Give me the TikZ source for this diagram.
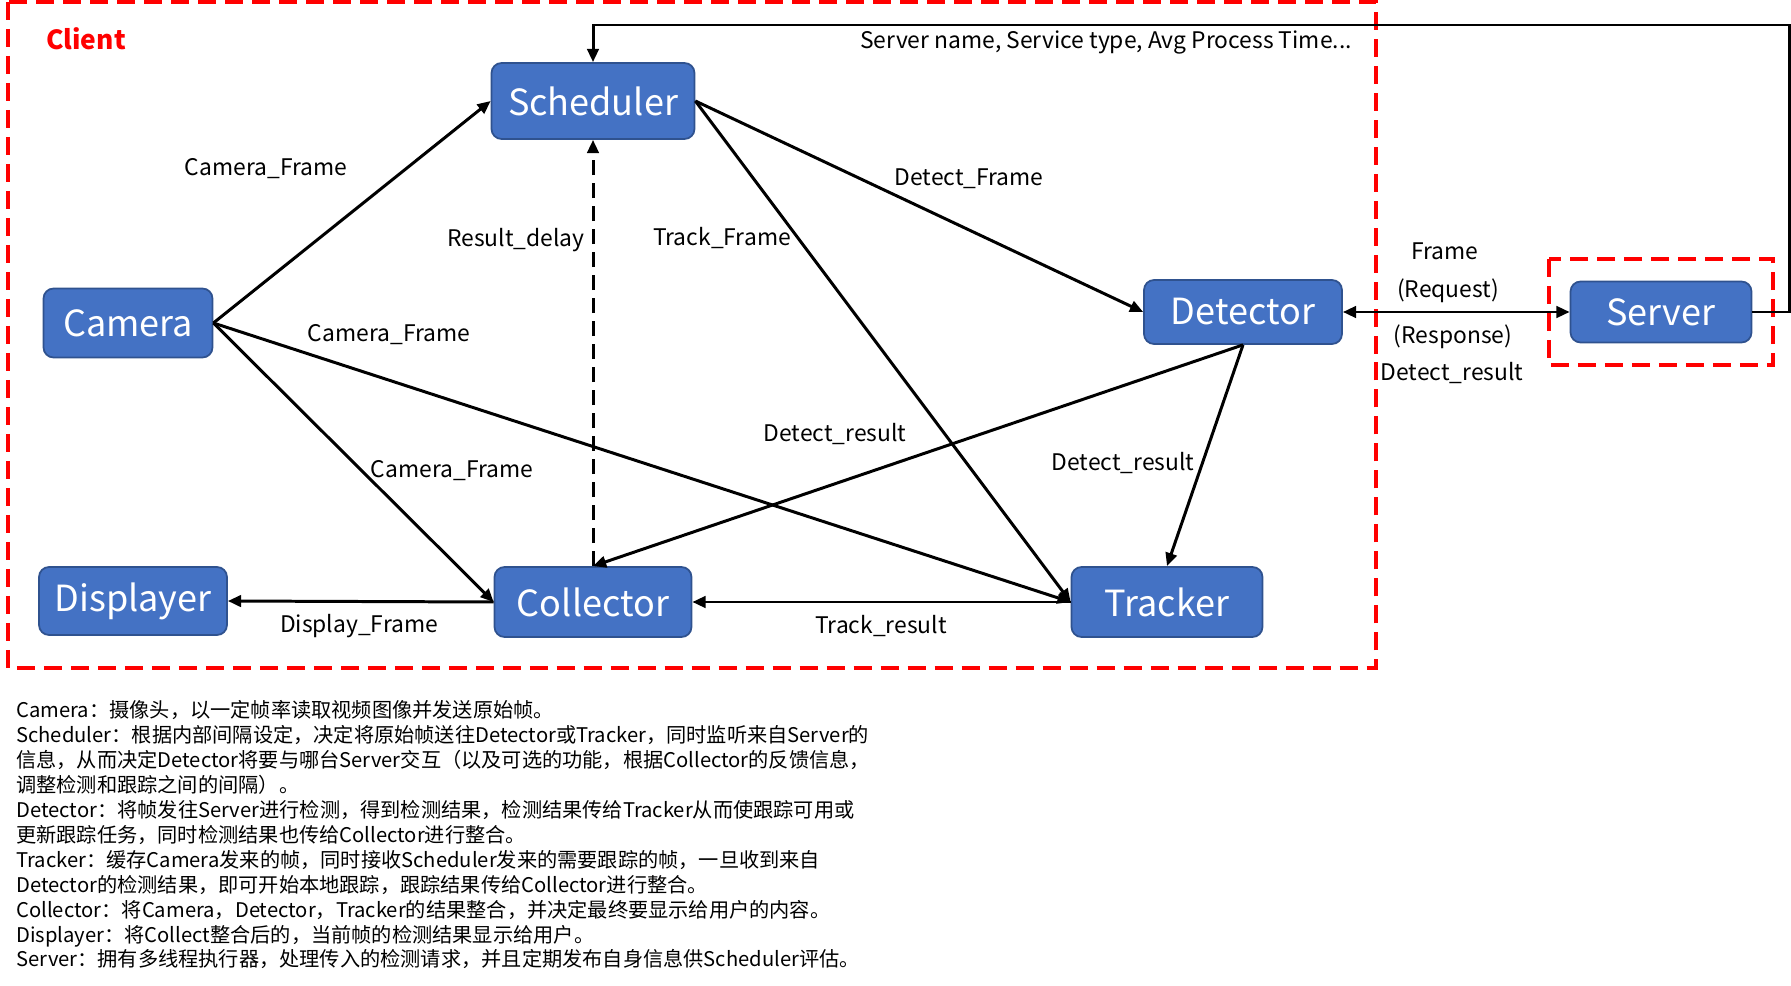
\documentclass[tikz,border=0pt]{standalone}
\usepackage{fontspec}
\setmainfont{Noto Sans CJK SC}
\usetikzlibrary{arrows.meta}
\definecolor{nodeblue}{RGB}{68,114,196}
\definecolor{nodeedge}{RGB}{47,82,143}

\begin{document}
\begin{tikzpicture}[x=0.02cm, y=-0.02cm,
    module/.style={draw=nodeedge, line width=1pt, fill=nodeblue, rounded corners=0.2cm, text=white, inner sep=0pt, font=\fontsize{20.5}{25}\selectfont},
    flow/.style={-{Triangle[length=7.5pt,width=6.5pt]}, line width=1.7pt},
    lbl/.style={font=\fontsize{13}{15}\selectfont},
    zone/.style={draw=red, dash pattern=on 0.36cm off 0.18cm, line width=1.8pt}
  ]
  \useasboundingbox (0,0) rectangle (1791,986);

  % Zones
  \draw[zone] (8,2) rectangle (1376,668);
  \draw[zone] (1549,259) rectangle (1773,365);
  \node[text=red, font=\fontsize{15}{18}\selectfont\bfseries, anchor=west] (client) at (40,39) {Client};

  % Modules
  \node[module, minimum width=4.06cm, minimum height=1.52cm] (scheduler) at (593,101) {Scheduler};
  \node[module, minimum width=3.38cm, minimum height=1.38cm] (camera) at (128,323) {Camera};
  \node[module, minimum width=3.96cm, minimum height=1.28cm] (detector) at (1243,312) {Detector};
  \node[module, minimum width=3.62cm, minimum height=1.22cm] (server) at (1661,312) {Server};
  \node[module, minimum width=3.76cm, minimum height=1.36cm] (displayer) at (133,601) {Displayer};
  \node[module, minimum width=3.94cm, minimum height=1.40cm] (collector) at (593,602) {Collector};
  \node[module, minimum width=3.82cm, minimum height=1.40cm] (tracker) at (1167,602) {Tracker};

  % Connectors
  \draw[flow] (camera.east) -- (scheduler.west);
  \draw[flow] (scheduler.east) -- (detector.west);
  \draw[flow] (scheduler.east) -- (tracker.west);
  \draw[flow] (camera.east) -- (tracker.west);
  \draw[flow] (camera.east) -- (collector.west);
  \draw[flow, dash pattern=on 0.3cm off 0.16cm] (collector.north) -- (scheduler.south);
  \draw[flow] (detector.south) -- (collector.north);
  \draw[flow] (detector.south) -- (tracker.north);
  \draw[flow] (tracker.west) -- (collector.east);
  \draw[flow] (collector.west) -- (displayer.east);
  \draw[flow, {Triangle[length=7.5pt,width=6.5pt]}-{Triangle[length=7.5pt,width=6.5pt]}] (detector.east) -- (server.west);
  \coordinate (loop) at (1789,25);
  \draw[flow] (server.east) -| (loop) -| (scheduler.north);

  % Labels
  \node[lbl, anchor=east] (info) at (1358,43) {Server name, Service type, Avg Process Time...};
  \node[lbl] (cf1) at (266,169) {Camera\_Frame};
  \node[lbl] (rd) at (516,240) {Result\_delay};
  \node[lbl] (tf) at (722,238) {Track\_Frame};
  \node[lbl] (df) at (969,179) {Detect\_Frame};
  \node[lbl] (cf2) at (389,335) {Camera\_Frame};
  \node[lbl] (cf3) at (452,471) {Camera\_Frame};
  \node[lbl] (dr1) at (835,434) {Detect\_result};
  \node[lbl] (dr2) at (1123,463) {Detect\_result};
  \node[lbl] (fr) at (1445,251) {Frame};
  \node[lbl] (req) at (1448,291) {(Request)};
  \node[lbl] (resp) at (1453,337) {(Response)};
  \node[lbl] (dr3) at (1452,373) {Detect\_result};
  \node[lbl] (dispf) at (359,626) {Display\_Frame};
  \node[lbl] (tr) at (881,626) {Track\_result};

  % Notes
  \node[anchor=north west, align=left, inner sep=0pt, font=\fontsize{11.5}{14.2}\selectfont] (notes) at (16,700) {%
    Camera：摄像头，以一定帧率读取视频图像并发送原始帧。\\
    Scheduler：根据内部间隔设定，决定将原始帧送往Detector或Tracker，同时监听来自Server的\\
    信息，从而决定Detector将要与哪台Server交互（以及可选的功能，根据Collector的反馈信息，\\
    调整检测和跟踪之间的间隔）。\\
    Detector：将帧发往Server进行检测，得到检测结果，检测结果传给Tracker从而使跟踪可用或\\
    更新跟踪任务，同时检测结果也传给Collector进行整合。\\
    Tracker：缓存Camera发来的帧，同时接收Scheduler发来的需要跟踪的帧，一旦收到来自\\
    Detector的检测结果，即可开始本地跟踪，跟踪结果传给Collector进行整合。\\
    Collector：将Camera，Detector，Tracker的结果整合，并决定最终要显示给用户的内容。\\
    Displayer：将Collect整合后的，当前帧的检测结果显示给用户。\\
    Server：拥有多线程执行器，处理传入的检测请求，并且定期发布自身信息供Scheduler评估。};
\end{tikzpicture}
\end{document}
